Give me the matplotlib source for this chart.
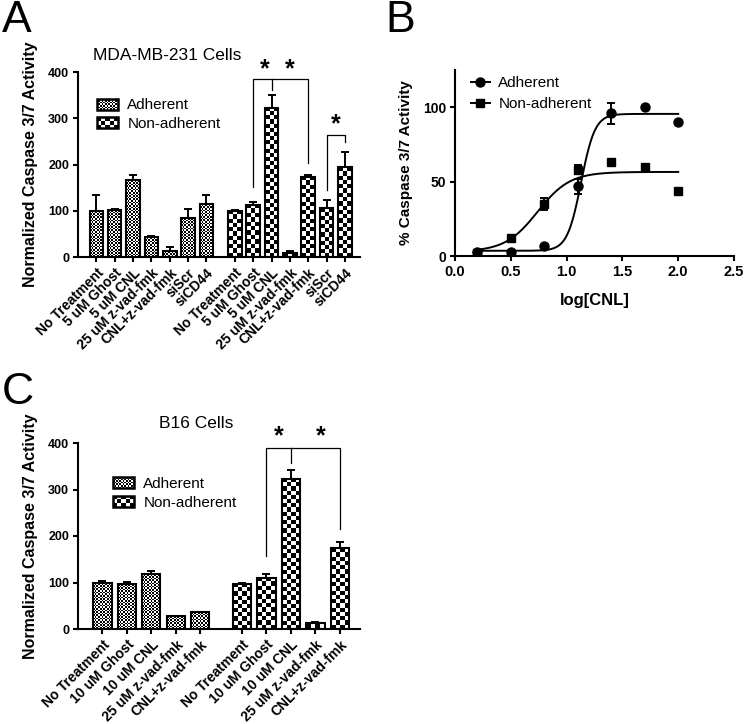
import numpy as np
import matplotlib
matplotlib.use("Agg")
import matplotlib.pyplot as plt
from matplotlib.patches import Rectangle
from matplotlib.lines import Line2D
from matplotlib.legend_handler import HandlerBase

plt.rcParams['font.family'] = ['Liberation Sans', 'DejaVu Sans']

# ---- panel A data (MDA-MB-231) ----
a_labels = ["No Treatment", "5 uM Ghost", "5 uM CNL", "25 uM z-vad-fmk",
            "CNL+z-vad-fmk", "siScr", "siCD44"]
a_adh = [100, 101, 167, 44, 14, 84, 115]
a_adh_err = [33, 3, 11, 1, 8, 20, 20]
a_non = [100, 113, 323, 8, 174, 105, 194]
a_non_err = [2, 5, 27, 5, 3, 18, 34]

# ---- panel B data (dose response) ----
b_logx = [0.2, 0.5, 0.8, 1.1, 1.4, 1.7, 2.0]
b_adh = [2.5, 3, 7, 47, 96, 100, 90]
b_adh_err = [0, 0, 0, 5, 7, 0, 0]
b_non = [2, 12, 35, 58, 63, 60, 44]
b_non_err = [0, 0, 4, 3, 0, 0, 0]
# fitted sigmoid parameters: bottom, top, logEC50, hill
b_adh_fit = [3.5, 95.5, 1.13, 7.0]
b_non_fit = [3.0, 56.5, 0.74, 3.0]

# ---- panel C data (B16) ----
c_labels = ["No Treatment", "10 uM Ghost", "10 uM CNL", "25 uM z-vad-fmk",
            "CNL+z-vad-fmk"]
c_adh = [100, 96, 119, 27, 36]
c_adh_err = [3, 5, 5, 1, 1]
c_non = [97, 110, 323, 12, 174]
c_non_err = [3, 8, 18, 4, 14]

FINE = 1.6     # checker cell (px) for adherent
COARSE = 4.2   # checker cell (px) for non-adherent


class CheckerHandler(HandlerBase):
    def __init__(self, cell):
        super().__init__()
        self.cell = cell

    def create_artists(self, legend, orig_handle, xdescent, ydescent,
                       width, height, fontsize, trans):
        x0, y0 = -xdescent, -ydescent
        arts = [Rectangle((x0, y0), width, height, fc='white', ec='none',
                          transform=trans)]
        nx = max(1, int(round(width / self.cell)))
        ny = max(1, int(round(height / self.cell)))
        cw, ch = width / nx, height / ny
        for i in range(nx):
            for j in range(ny):
                if (i + j) % 2 == 0:
                    arts.append(Rectangle((x0 + i * cw, y0 + j * ch), cw, ch,
                                          fc='black', ec='none', lw=0,
                                          antialiased=False, transform=trans))
        arts.append(Rectangle((x0, y0), width, height, fc='none', ec='black',
                              lw=1.8, transform=trans))
        return arts


def checker_fill(ax, bars, cell_px):
    for b in bars:
        x0, y0 = b.get_x(), b.get_y()
        w, h = b.get_width(), b.get_height()
        (px0, py0), (px1, py1) = ax.transData.transform([(x0, y0), (x0 + w, y0 + h)])
        nx = max(1, int(round((px1 - px0) / cell_px)))
        ny = max(1, int(round((py1 - py0) / cell_px)))
        arr = np.indices((ny, nx)).sum(axis=0) % 2
        ax.imshow(arr, cmap='gray', vmin=0, vmax=1, extent=(x0, x0 + w, y0, y0 + h),
                  aspect='auto', interpolation='nearest', zorder=1.5)


def style(ax):
    for s in ['top', 'right']:
        ax.spines[s].set_visible(False)
    for s in ['left', 'bottom']:
        ax.spines[s].set_linewidth(1.5)
    ax.tick_params(width=1.5, length=3.8, pad=2.5, direction='out')


def bar_panel(ax, labels, adh, adh_err, non, non_err, gap, title, title_xy, leg_anchor):
    n = len(labels)
    pos_a = np.arange(n)
    pos_n = np.arange(n) + n + gap
    xs = np.r_[pos_a, pos_n]
    ax.set_xlim(-1.0, pos_n[-1] + 0.82)
    ax.set_ylim(0, 400)
    style(ax)
    w = 0.74
    ba = ax.bar(pos_a, adh, width=w, facecolor='none', edgecolor='black', lw=1.5, zorder=2)
    bn = ax.bar(pos_n, non, width=w, facecolor='none', edgecolor='black', lw=1.5, zorder=2)
    checker_fill(ax, ba, FINE)
    checker_fill(ax, bn, COARSE)
    ax.errorbar(pos_a, adh, yerr=[np.zeros(n), adh_err], fmt='none', ecolor='black',
                elinewidth=1.4, capsize=3, capthick=1.4, zorder=3)
    ax.errorbar(pos_n, non, yerr=[np.zeros(n), non_err], fmt='none', ecolor='black',
                elinewidth=1.4, capsize=3, capthick=1.4, zorder=3)
    ax.set_xlim(-1.0, pos_n[-1] + 0.82)
    ax.set_ylim(0, 400)
    ax.set_yticks([0, 100, 200, 300, 400], ['0', '100', '200', '300', '400'],
                  fontsize=9, fontweight='bold')
    ax.set_xticks(xs, labels + labels, rotation=45, ha='right', rotation_mode='anchor',
                  fontsize=10, fontweight='bold')
    ax.set_ylabel('Normalized Caspase 3/7 Activity', fontsize=11.5, fontweight='bold')
    ax.yaxis.set_label_coords(-0.142, 0.5)
    ax.text(title_xy[0], title_xy[1], title, transform=ax.transAxes, ha='center',
            va='center', fontsize=12.5)
    ha = Rectangle((0, 0), 1, 1)
    hn = Rectangle((0, 0), 1, 1)
    ax.legend([ha, hn], ['Adherent', 'Non-adherent'], loc='upper left',
              bbox_to_anchor=leg_anchor, frameon=False, fontsize=11,
              handlelength=1.4, handleheight=0.75, handletextpad=0.6,
              labelspacing=0.3, borderaxespad=0,
              handler_map={ha: CheckerHandler(FINE * 0.72),
                           hn: CheckerHandler(COARSE * 0.72)})
    return pos_a, pos_n


def bracket(ax, xl, yl, xr, yr, ytop, xm=None, ym=None):
    ax.plot([xl, xl, xr, xr], [yl, ytop, ytop, yr], color='black', lw=0.9,
            clip_on=False, zorder=4)
    if xm is not None:
        ax.plot([xm, xm], [ytop, ym], color='black', lw=0.9, clip_on=False, zorder=4)


def star(ax, x, y):
    ax.text(x, y, '*', ha='center', va='center', fontsize=18, fontweight='bold',
            clip_on=False)


fig = plt.figure(figsize=(7.45, 7.24), dpi=100)

# ---- A ----
axA = fig.add_axes([78 / 745, 1 - 257 / 724, 282 / 745, 185 / 724])
pa, pn = bar_panel(axA, a_labels, a_adh, a_adh_err, a_non, a_non_err, 0.55,
                   'MDA-MB-231 Cells', (0.316, 1.09), (0.045, 0.89))
bracket(axA, pn[1], 151, pn[4], 203, 385, pn[2], 361)
star(axA, (pn[1] + pn[2]) / 2 + 0.15, 405)
star(axA, (pn[2] + pn[4]) / 2, 405)
bracket(axA, pn[5], 145, pn[6], 249, 264)
star(axA, (pn[5] + pn[6]) / 2, 287)

# ---- C ----
axC = fig.add_axes([78 / 745, 1 - 629 / 724, 282 / 745, 186 / 724])
pa, pn = bar_panel(axC, c_labels, c_adh, c_adh_err, c_non, c_non_err, 0.7,
                   'B16 Cells', (0.42, 1.107), (0.102, 0.85))
bracket(axC, pn[1], 157, pn[4], 215, 389, pn[2], 357)
star(axC, (pn[1] + pn[2]) / 2, 414)
star(axC, (pn[2] + pn[4]) / 2 + 0.2, 414)

# ---- B ----
axB = fig.add_axes([455 / 745, 1 - 256 / 724, 279 / 745, 186 / 724])
style(axB)
xx = np.linspace(min(b_logx), max(b_logx), 300)
for fit in (b_adh_fit, b_non_fit):
    bot, top, ec, hill = fit
    axB.plot(xx, bot + (top - bot) / (1 + 10 ** ((ec - xx) * hill)), color='black', lw=1.4)
axB.errorbar(b_logx, b_adh, yerr=b_adh_err, fmt='none', ecolor='black', elinewidth=1.4,
             capsize=3, capthick=1.4)
axB.errorbar(b_logx, b_non, yerr=b_non_err, fmt='none', ecolor='black', elinewidth=1.4,
             capsize=3, capthick=1.4)
axB.plot(b_logx, b_adh, 'o', color='black', ms=6.5)
axB.plot(b_logx, b_non, 's', color='black', ms=6)
axB.set_xlim(0, 2.5)
axB.set_ylim(0, 125)
axB.set_xticks([0, 0.5, 1.0, 1.5, 2.0, 2.5], ['0.0', '0.5', '1.0', '1.5', '2.0', '2.5'],
               fontsize=10.5, fontweight='bold')
axB.set_yticks([0, 50, 100], ['0', '50', '100'], fontsize=10, fontweight='bold')
axB.set_xlabel('log[CNL]', fontsize=12, fontweight='bold')
axB.xaxis.set_label_coords(0.5, -0.2)
axB.set_ylabel('% Caspase 3/7 Activity', fontsize=11, fontweight='bold')
axB.yaxis.set_label_coords(-0.15, 0.5)
hA = Line2D([], [], color='black', marker='o', ms=6.5, lw=1.4)
hN = Line2D([], [], color='black', marker='s', ms=6, lw=1.4)
axB.legend([hA, hN], ['Adherent', 'Non-adherent'], loc='upper left',
           bbox_to_anchor=(0.035, 1.0), frameon=False, fontsize=11,
           handlelength=1.25, handletextpad=0.55, labelspacing=0.45, borderaxespad=0)

# panel letters
fig.text(0.002, 1.0, 'A', fontsize=32, va='top', ha='left')
fig.text(385 / 745, 1.0, 'B', fontsize=32, va='top', ha='left')
fig.text(0.002, 1 - 372 / 724, 'C', fontsize=32, va='top', ha='left')

fig.savefig('out.png', dpi=100)
